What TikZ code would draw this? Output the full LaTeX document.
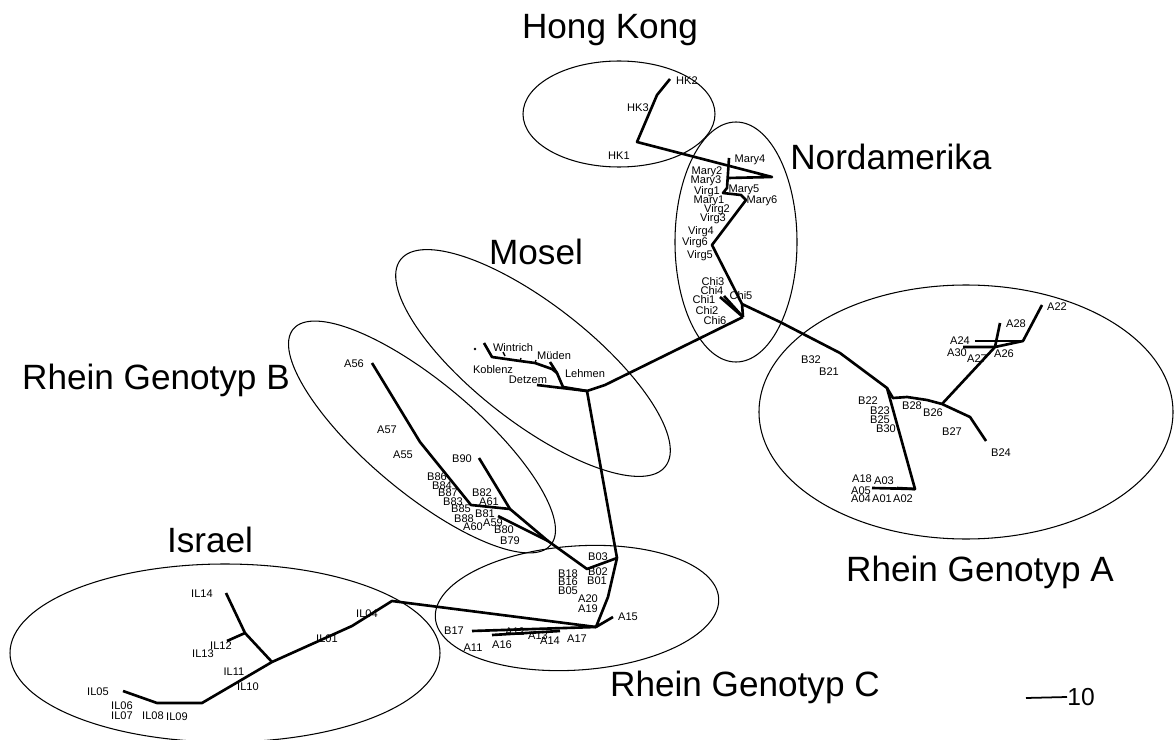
\documentclass[tikz,border=0pt]{standalone}
\usepackage{fontspec}
\setmainfont{Liberation Sans}
\usepackage{tikz}

\begin{document}
\begin{tikzpicture}[x=0.02cm, y=-0.02cm,
    br/.style={line width=1.5pt, line join=round},
    grp/.style={line width=0.6pt},
    lab/.style={font=\fontsize{6.3}{7}\selectfont, inner sep=0pt},
    clade/.style={font=\fontsize{20}{24}\selectfont, inner sep=0pt}]
\useasboundingbox (0,0) rectangle (1174,740);

% groups
\draw[grp] (619,114) ellipse [x radius=96, y radius=53];
\draw[grp] (736,242) ellipse [x radius=61, y radius=120];
\draw[grp, shift={(533,363)}, rotate=-38] (0,0) ellipse [x radius=168, y radius=59];
\draw[grp, shift={(422,437)}, rotate=-40] (0,0) ellipse [x radius=168, y radius=55];
\draw[grp] (966,412) ellipse [x radius=207, y radius=127];
\draw[grp, shift={(577,608)}, rotate=4] (0,0) ellipse [x radius=142, y radius=62];
\draw[grp] (225,653) ellipse [x radius=215, y radius=89];

\node[clade] (hongkong) at (610,30) {Hong Kong};
\node[clade, anchor=west] (nordam) at (790,157) {Nordamerika};
\node[clade] (mosel) at (536,252) {Mosel};
\node[clade] (rheinb) at (156,380) {Rhein Genotyp B};
\node[clade] (israel) at (210,540) {Israel};
\node[clade] (rheina) at (980,572) {Rhein Genotyp A};
\node[clade] (rheinc) at (745,687) {Rhein Genotyp C};

% branch points
\coordinate (hk2) at (670,79);
\coordinate (hk3) at (657,95);
\coordinate (hk1) at (637,142);
\coordinate (naR) at (772,177);
\coordinate (m4a) at (729,158);
\coordinate (m4b) at (728,178);
\coordinate (m4c) at (727,188);
\coordinate (v1) at (723,193);
\coordinate (m5) at (741,195);
\coordinate (m6) at (746,200);
\coordinate (v6) at (712,245);
\coordinate (chiT) at (742,304);
\coordinate (chiB) at (743,317);
\coordinate (chi1) at (720,297);
\coordinate (chi4) at (724,296);
\coordinate (ra1) at (780,322);
\coordinate (ra2) at (840,353);
\coordinate (raJ) at (887,388);
\coordinate (raK) at (893,398);
\coordinate (b28) at (907,397);
\coordinate (b28b) at (927,400);
\coordinate (b26J) at (942,404);
\coordinate (b27) at (970,417);
\coordinate (b24) at (986,441);
\coordinate (a27J) at (995,347);
\coordinate (a26J) at (1023,341);
\coordinate (a22) at (1042,305);
\coordinate (a24) at (975,341);
\coordinate (a30) at (963,347);
\coordinate (a28) at (1000,323);
\coordinate (a02) at (915,489);
\coordinate (a05) at (872,488);
\coordinate (a03) at (897,488);
% Mosel
\coordinate (moJ) at (587,391);
\coordinate (lehJ) at (605,385);
\coordinate (detz) at (537,385);
\coordinate (wint) at (484,343);
\coordinate (kob) at (492,357);
\coordinate (mw1) at (520,361);
\coordinate (mw2) at (535,363);
\coordinate (mw3) at (552,369);
\coordinate (mw4) at (557,373);
\coordinate (mw5) at (563,387);
\coordinate (mud) at (550,362);
\coordinate (mdot) at (475,349);
% Rhein C
\coordinate (b03J) at (617,558);
\coordinate (b02J) at (587,569);
\coordinate (ck) at (608,597);
\coordinate (cJ) at (596,627);
\coordinate (a15) at (613,617);
\coordinate (b17) at (472,631);
\coordinate (a16) at (492,635);
\coordinate (a13) at (560,631);
% Rhein B
\coordinate (b81J) at (548,541);
\coordinate (b82J) at (510,509);
\coordinate (b90) at (479,458);
\coordinate (rb1) at (471,505);
\coordinate (rb2) at (420,442);
\coordinate (a56) at (372,363);
\coordinate (b81) at (498,516);
% Israel
\coordinate (il04J) at (392,601);
\coordinate (il04) at (352,626);
\coordinate (ilJ) at (272,662);
\coordinate (il10) at (202,703);
\coordinate (il08) at (157,703);
\coordinate (il05) at (123,691);
\coordinate (ilK) at (245,633);
\coordinate (il14) at (226,593);
\coordinate (il12) at (227,641);

% tree
\draw[br] (hk2) -- (hk3) -- (hk1) -- (naR) -- (m4b);
\draw[br] (m4a) -- (m4c) -- (v1) -- (m5) -- (m6) -- (v6) -- (chiT) -- (chiB);
\draw[br] (chiB) -- (chi1);
\draw[br] (chiB) -- (chi4);
\draw[br] (chiT) -- (ra1) -- (ra2) -- (raJ) -- (a02) -- (a05);
\draw[br] (a02) -- (a03);
\draw[br] (raJ) -- (raK) -- (b28) -- (b28b) -- (b26J) -- (b27) -- (b24);
\draw[br] (b26J) -- (a27J) -- (a26J) -- (a22);
\draw[br] (a24) -- (a26J);
\draw[br] (a30) -- (a27J) -- (a28);
\draw[br] (chiB) -- (lehJ) -- (moJ) -- (b03J);
\draw[br] (detz) -- (moJ);
\draw[br] (wint) -- (kob) -- (mw1) -- (mw2) -- (mw3) -- (mw4) -- (mw5) -- (moJ);
\draw[br] (mud) -- (mw4);
\draw[line width=0.8pt] (mw1) -- ++(1,-3);
\draw[line width=0.8pt] (mw2) -- ++(1,-3);
\draw[line width=0.8pt] (503,352) -- ++(2,4);
\fill (mdot) circle [radius=1.3];
\draw[br] (b03J) -- (b02J) -- (b81J) -- (b82J) -- (b90);
\draw[br] (a56) -- (rb2) -- (rb1) -- (b82J);
\draw[br] (b81) -- (b81J);
\draw[br] (b03J) -- (ck) -- (cJ) -- (a15);
\draw[br] (cJ) -- (b17);
\draw[br] (a16) -- (a13);
\draw[br] (cJ) -- (il04J) -- (il04) -- (ilJ) -- (il10) -- (il08) -- (il05);
\draw[br] (ilJ) -- (ilK) -- (il14);
\draw[br] (ilK) -- (il12);

% leaf labels
\node[lab] (HK2) at (687,81) {HK2};
\node[lab] (HK3) at (638,108) {HK3};
\node[lab] (HK1) at (619,156) {HK1};
\node[lab] (Mary4) at (750,160) {Mary4};
\node[lab] (Mary2) at (707,172) {Mary2};
\node[lab] (Mary3) at (706,181) {Mary3};
\node[lab] (Mary5) at (744,190) {Mary5};
\node[lab] (Virg1) at (707,192) {Virg1};
\node[lab] (Mary1) at (709,201) {Mary1};
\node[lab] (Mary6) at (762,201) {Mary6};
\node[lab] (Virg2) at (717,210) {Virg2};
\node[lab] (Virg3) at (713,219) {Virg3};
\node[lab] (Virg4) at (701,232) {Virg4};
\node[lab] (Virg6) at (695,243) {Virg6};
\node[lab] (Virg5) at (700,256) {Virg5};
\node[lab] (Chi3) at (713,282) {Chi3};
\node[lab] (Chi4) at (712,291) {Chi4};
\node[lab] (Chi1) at (704,300) {Chi1};
\node[lab] (Chi5) at (741,296) {Chi5};
\node[lab] (Chi2) at (707,311) {Chi2};
\node[lab] (Chi6) at (715,321) {Chi6};
\node[lab] (Wintrich) at (513,348) {Wintrich};
\node[lab] (Mueden) at (554,356) {Müden};
\node[lab] (Koblenz) at (493,370) {Koblenz};
\node[lab] (Detzem) at (528,380) {Detzem};
\node[lab] (Lehmen) at (585,374) {Lehmen};
\node[lab] (A56) at (354,364) {A56};
\node[lab] (A57) at (387,430) {A57};
\node[lab] (A55) at (403,455) {A55};
\node[lab] (B90) at (462,459) {B90};
\node[lab] (B86) at (437,477) {B86};
\node[lab] (B84) at (442,486) {B84};
\node[lab] (B87) at (448,493) {B87};
\node[lab] (B82) at (482,493) {B82};
\node[lab] (B83) at (453,502) {B83};
\node[lab] (A61) at (489,502) {A61};
\node[lab] (B85) at (461,509) {B85};
\node[lab] (B81) at (485,514) {B81};
\node[lab] (A59) at (493,523) {A59};
\node[lab] (B88) at (464,519) {B88};
\node[lab] (A60) at (473,527) {A60};
\node[lab] (B80) at (504,530) {B80};
\node[lab] (B79) at (510,541) {B79};
\node[lab] (B32) at (811,360) {B32};
\node[lab] (B21) at (829,372) {B21};
\node[lab] (B22) at (868,401) {B22};
\node[lab] (B23) at (880,411) {B23};
\node[lab] (B25) at (880,420) {B25};
\node[lab] (B30) at (886,429) {B30};
\node[lab] (B28) at (912,406) {B28};
\node[lab] (B26) at (933,413) {B26};
\node[lab] (B27) at (952,432) {B27};
\node[lab] (B24) at (1001,453) {B24};
\node[lab] (A22) at (1057,307) {A22};
\node[lab] (A28) at (1016,324) {A28};
\node[lab] (A24) at (960,341) {A24};
\node[lab] (A30) at (957,353) {A30};
\node[lab] (A27) at (977,359) {A27};
\node[lab] (A26) at (1004,354) {A26};
\node[lab] (A18) at (862,479) {A18};
\node[lab] (A03) at (884,481) {A03};
\node[lab] (A05) at (861,491) {A05};
\node[lab] (A04) at (861,499) {A04};
\node[lab] (A01) at (882,499) {A01};
\node[lab] (A02) at (903,499) {A02};
\node[lab] (B03) at (598,557) {B03};
\node[lab] (B18) at (568,574) {B18};
\node[lab] (B02) at (598,572) {B02};
\node[lab] (B16) at (568,582) {B16};
\node[lab] (B01) at (597,581) {B01};
\node[lab] (B05) at (568,591) {B05};
\node[lab] (A20) at (588,599) {A20};
\node[lab] (A19) at (588,609) {A19};
\node[lab] (A15) at (628,617) {A15};
\node[lab] (B17) at (454,631) {B17};
\node[lab] (A12) at (515,632) {A12};
\node[lab] (A13) at (538,636) {A13};
\node[lab] (A14) at (550,641) {A14};
\node[lab] (A17) at (577,639) {A17};
\node[lab] (A16) at (502,645) {A16};
\node[lab] (A11) at (473,648) {A11};
\node[lab] (IL14) at (202,594) {IL14};
\node[lab] (IL04) at (367,614) {IL04};
\node[lab] (IL12) at (221,646) {IL12};
\node[lab] (IL01) at (327,639) {IL01};
\node[lab] (IL13) at (203,654) {IL13};
\node[lab] (IL11) at (234,672) {IL11};
\node[lab] (IL10) at (248,687) {IL10};
\node[lab] (IL05) at (98,692) {IL05};
\node[lab] (IL06) at (122,706) {IL06};
\node[lab] (IL07) at (122,716) {IL07};
\node[lab] (IL08) at (153,716) {IL08};
\node[lab] (IL09) at (177,717) {IL09};

% scale
\coordinate (sc0) at (1026,698);
\node[font=\fontsize{14}{16}\selectfont, inner sep=0pt, anchor=west] (scale) at (1067,697) {10};
\draw[line width=1pt] (sc0) -- (scale.west);
\end{tikzpicture}
\end{document}
